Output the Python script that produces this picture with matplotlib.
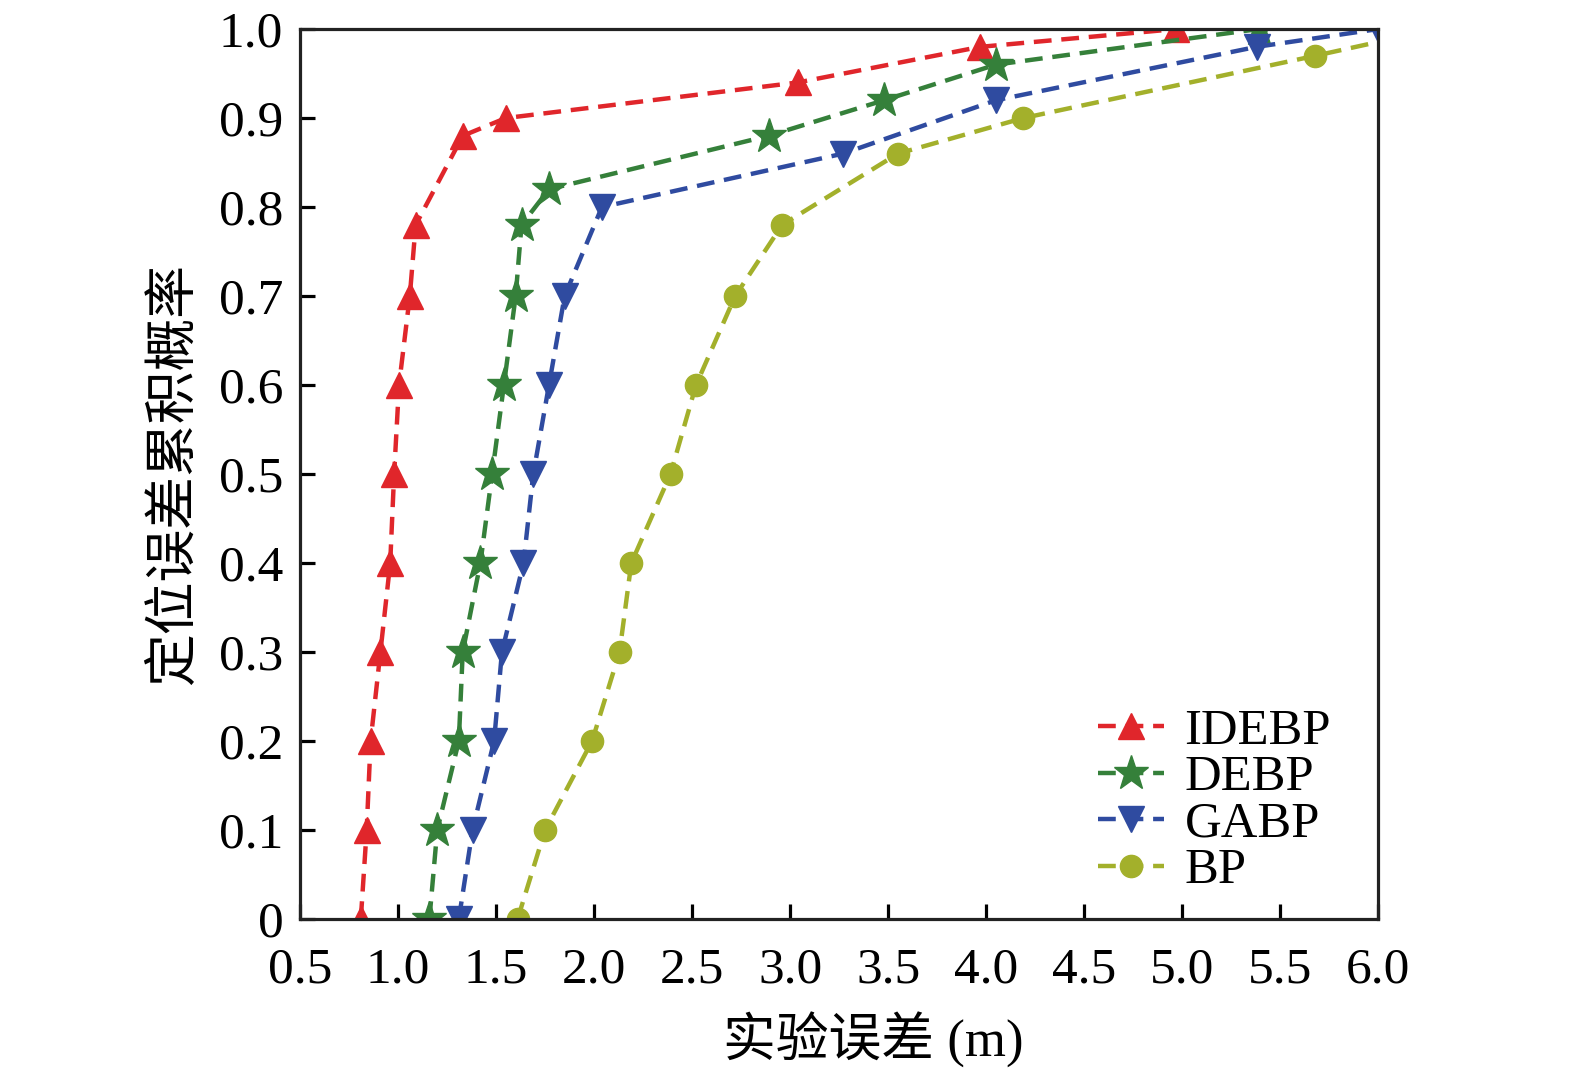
import matplotlib
matplotlib.use("Agg")
import matplotlib.pyplot as plt
import numpy as np

plt.rcParams['font.family'] = ['Liberation Serif', 'Noto Sans CJK SC', 'DejaVu Sans']
plt.rcParams['mathtext.fontset'] = 'stix'

# 累积概率 (y) 与 实验误差 (x)
idebp_x = [0.81, 0.84, 0.86, 0.91, 0.96, 0.98, 1.005, 1.06, 1.09, 1.33, 1.55, 3.04, 3.97, 4.97]
idebp_y = [0.0, 0.1, 0.2, 0.3, 0.4, 0.5, 0.6, 0.7, 0.78, 0.88, 0.90, 0.94, 0.98, 1.0]

debp_x = [1.16, 1.20, 1.31, 1.33, 1.42, 1.48, 1.54, 1.60, 1.63, 1.77, 2.89, 3.48, 4.05, 5.39]
debp_y = [0.0, 0.1, 0.2, 0.3, 0.4, 0.5, 0.6, 0.7, 0.78, 0.82, 0.88, 0.92, 0.96, 1.0]

gabp_x = [1.31, 1.38, 1.49, 1.53, 1.64, 1.69, 1.77, 1.85, 2.04, 3.27, 4.05, 5.38, 6.0]
gabp_y = [0.0, 0.1, 0.2, 0.3, 0.4, 0.5, 0.6, 0.7, 0.80, 0.86, 0.92, 0.98, 1.0]

bp_x = [1.61, 1.75, 1.99, 2.13, 2.19, 2.39, 2.52, 2.72, 2.96, 3.55, 4.19, 5.68, 6.3]
bp_y = [0.0, 0.1, 0.2, 0.3, 0.4, 0.5, 0.6, 0.7, 0.78, 0.86, 0.90, 0.97, 1.0]

xticks = [0.5, 1.0, 1.5, 2.0, 2.5, 3.0, 3.5, 4.0, 4.5, 5.0, 5.5, 6.0]
yticks = [0, 0.1, 0.2, 0.3, 0.4, 0.5, 0.6, 0.7, 0.8, 0.9, 1.0]
ytick_labels = ['0'] + ['%.1f' % v for v in yticks[1:]]

fig = plt.figure(figsize=(15.75, 10.68), dpi=100)
ax = fig.add_axes([0.1905, 0.1395, 0.6845, 0.8333])

dash = (4, 2.2)
lw = 3.2
ax.plot(idebp_x, idebp_y, linestyle='--', dashes=dash, color='#e0262b', lw=lw,
        marker='^', ms=19, label='IDEBP')
ax.plot(debp_x, debp_y, linestyle='--', dashes=dash, color='#35803a', lw=lw,
        marker='*', ms=26, label='DEBP')
ax.plot(gabp_x, gabp_y, linestyle='--', dashes=dash, color='#2f4ba0', lw=lw,
        marker='v', ms=19, label='GABP')
ax.plot(bp_x, bp_y, linestyle='--', dashes=dash, color='#a3b02b', lw=lw,
        marker='o', ms=16, label='BP')

ax.set_xlim(0.5, 6.0)
ax.set_ylim(0, 1.0)
ax.set_xticks(xticks)
ax.set_xticklabels(['%.1f' % v for v in xticks])
ax.set_yticks(yticks)
ax.set_yticklabels(ytick_labels)
ax.tick_params(direction='in', length=11, width=2.3, labelsize=37, top=False, right=False)
ax.tick_params(axis='x', pad=20)
ax.tick_params(axis='y', pad=12)

for s in ax.spines.values():
    s.set_linewidth(2.3)
    s.set_color('#222222')

ax.set_xlabel('实验误差 (m)', fontsize=38, labelpad=4)
ax.xaxis.set_label_coords(0.532, -0.105)
ax.set_ylabel('定位误差累积概率', fontsize=38, labelpad=14)

leg = ax.legend(loc='lower right', frameon=False, fontsize=36.5, handlelength=1.3,
                handletextpad=0.4, labelspacing=0.0, borderaxespad=0.0,
                bbox_to_anchor=(0.975, 0.005))

fig.savefig('out.png', dpi=100)
